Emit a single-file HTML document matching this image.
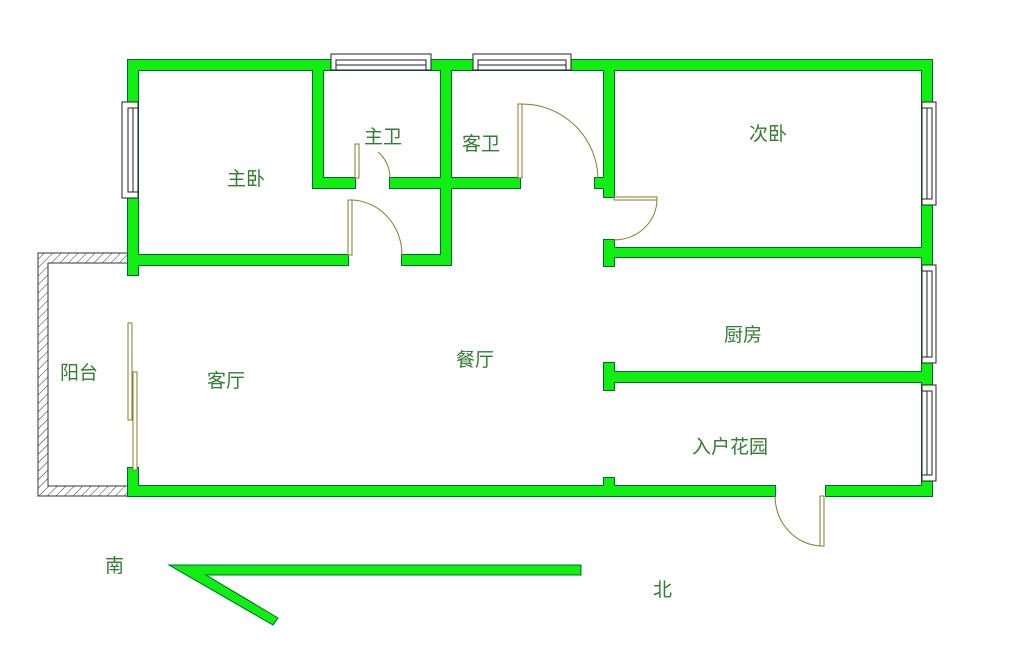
<!DOCTYPE html>
<html><head><meta charset="utf-8"><style>
html,body{margin:0;padding:0;background:#fff;}
svg{display:block;}
text{font-family:"Liberation Sans","Noto Sans CJK SC",sans-serif;font-size:19px;fill:#357a35;}
</style></head><body>
<svg width="1014" height="646" viewBox="0 0 1014 646" xmlns="http://www.w3.org/2000/svg">
<defs>
<pattern id="h" width="6" height="6" patternUnits="userSpaceOnUse" patternTransform="rotate(45)">
<line x1="0" y1="0" x2="0" y2="6" stroke="#333" stroke-width="1"/>
</pattern>
<g id="w">
<rect x="128" y="60" width="804" height="10"/>
<rect x="128" y="60" width="10" height="215"/>
<rect x="128" y="255" width="220" height="10"/>
<rect x="402" y="255" width="49" height="10"/>
<rect x="313" y="60" width="10" height="128"/>
<rect x="313" y="178" width="42" height="10"/>
<rect x="390" y="178" width="130" height="10"/>
<rect x="441" y="60" width="10" height="205"/>
<rect x="604" y="60" width="10" height="137"/>
<rect x="595" y="178" width="19" height="10"/>
<rect x="604" y="240" width="10" height="26"/>
<rect x="604" y="248" width="328" height="9"/>
<rect x="922" y="60" width="10" height="436"/>
<rect x="604" y="363" width="10" height="27"/>
<rect x="604" y="372" width="328" height="10"/>
<rect x="128" y="468" width="10" height="28"/>
<rect x="133" y="486" width="642" height="10"/>
<rect x="826" y="486" width="106" height="10"/>
<rect x="604" y="478" width="10" height="18"/>
</g>
</defs>
<path d="M38 253 H128 V263 H48 V486 H128 V496 H38 Z" fill="url(#h)" stroke="#333" stroke-width="1"/>
<use href="#w" fill="#000" stroke="#063" stroke-width="2"/>
<use href="#w" fill="#11ee11"/>
<g fill="#fff" stroke="#222" stroke-width="1">
<rect x="331" y="54" width="100" height="16"/>
<rect x="336" y="60" width="90" height="10"/>
<rect x="473" y="54" width="98" height="16"/>
<rect x="478" y="60" width="88" height="10"/>
<rect x="122" y="102" width="16" height="96"/>
<rect x="128" y="108" width="10" height="84"/>
<rect x="922" y="102" width="14" height="103"/>
<rect x="922" y="108" width="10" height="91"/>
<rect x="922" y="265" width="14" height="98"/>
<rect x="922" y="271" width="10" height="86"/>
<rect x="922" y="385" width="14" height="96"/>
<rect x="922" y="391" width="10" height="84"/>
</g>
<line x1="336" y1="65" x2="426" y2="65" stroke="#222"/>
<line x1="478" y1="65" x2="566" y2="65" stroke="#222"/>
<line x1="133" y1="108" x2="133" y2="192" stroke="#222"/>
<line x1="927" y1="108" x2="927" y2="199" stroke="#222"/>
<line x1="927" y1="271" x2="927" y2="357" stroke="#222"/>
<line x1="927" y1="391" x2="927" y2="475" stroke="#222"/>
<g fill="#fff" stroke="#8a7a2a" stroke-width="1">
<rect x="348" y="200" width="4" height="55"/>
<path d="M352 200 A52 55 0 0 1 402 255" fill="none"/>
<rect x="355" y="144" width="4" height="34"/>
<path d="M378 152 A34 34 0 0 1 390 178" fill="none"/>
<rect x="518" y="104" width="4" height="74"/>
<path d="M522 104 A76 76 0 0 1 598 178" fill="none"/>
<rect x="614" y="197" width="43" height="3"/>
<path d="M657 200 A43 41 0 0 1 614 240" fill="none"/>
<rect x="820" y="496" width="4" height="50"/>
<path d="M775 496 A48 50 0 0 0 820 546" fill="none"/>
<rect x="128" y="323" width="4" height="97"/>
<rect x="133" y="372" width="4" height="98"/>
</g>
<path d="M169 565 H581 V575 H206 L278 618 L273 625 Z" fill="#11ee11" stroke="#063" stroke-width="1"/>
<text x="227" y="185">主卧</text>
<text x="364" y="143">主卫</text>
<text x="462" y="150">客卫</text>
<text x="749" y="140">次卧</text>
<text x="724" y="341">厨房</text>
<text x="456" y="366">餐厅</text>
<text x="207" y="387">客厅</text>
<text x="60" y="379">阳台</text>
<text x="692" y="453">入户花园</text>
<text x="105" y="572">南</text>
<text x="653" y="596">北</text>
</svg>
</body></html>
